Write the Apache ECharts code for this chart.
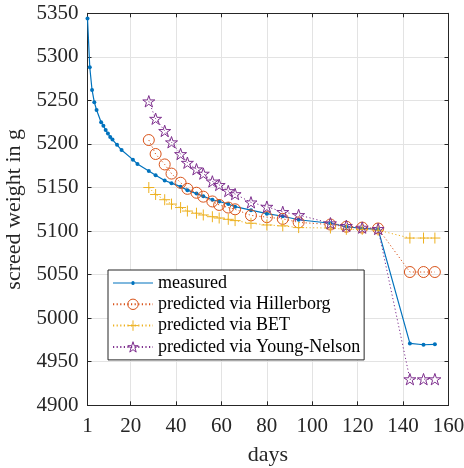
<!DOCTYPE html>
<html>
<head>
<meta charset="utf-8">
<script src="https://cdn.jsdelivr.net/npm/echarts@6/dist/echarts.min.js"></script>
<style>html,body{margin:0;padding:0;background:#fff}#c{width:464px;height:468px}</style>
</head>
<body>
<div id="c"></div>
<script>
const measuredDays = [1,2,3,4,5,7,8,9,10,11,12,14,16,21,23,28,31,35,38,42,45,49,52,56,59,63,66,73,80,87,94,108,115,122,129,143,149,154];
const measured = [5344,5288,5262,5248,5239,5225,5221,5216,5212,5208,5205,5199,5193,5182,5177,5169,5164,5158,5155,5151,5147,5143,5140,5136,5134,5131,5128,5124,5120,5117,5113,5109,5105,5103,5102,4971,4969.5,4970];
const predDays = [28,31,35,38,42,45,49,52,56,59,63,66,73,80,87,94,108,115,122,129,143,149,154];
const hillerborg = [5204.5,5188.5,5176.5,5166,5155.5,5148.5,5144,5139.5,5134,5130,5127,5125,5118,5116,5114,5110,5107.5,5105,5104,5103,5053,5053,5053];
const bet = [5150,5142,5136,5131,5127,5123,5120.5,5118.5,5116.5,5115,5113.5,5112,5109,5107,5106,5104,5103.5,5102,5102,5101,5092,5092,5092];
const youngNelson = [5249,5229,5215,5202,5188.5,5178.5,5171,5166,5157,5153,5146,5142.5,5133,5128,5122,5118.5,5109,5106,5104,5102.5,4930,4930,4930];
const xTicks = [1,20,40,60,80,100,120,140,160];
const seriesNames = ['measured','predicted via Hillerborg','predicted via BET','predicted via Young-Nelson'];

const FONT = 'Liberation Serif';
const AX = '#262626';
const GRID = '#e3e3e3';
const C = ['#0072BD', '#D95319', '#EDB120', '#7E2F8E'];
const STAR = 'path://M100,0 L122.45,69.1 L195.1,69.1 L136.3,111.8 L158.8,180.9 L100,138.2 L41.2,180.9 L63.7,111.8 L4.9,69.1 L77.55,69.1 Z';
const PLUS = 'path://M50,0 L50,100 M0,50 L100,50';
const MEAS_ICON = 'path://M0,1.6 L18.4,1.6 A1.6,1.6 0 0 1 21.6,1.6 L40,1.6 L40,2.4 L21.6,2.4 A1.6,1.6 0 0 1 18.4,2.4 L0,2.4 Z';
const CLEAR = 'rgba(255,255,255,0)';
const zip = (xs, ys) => xs.map((x, i) => [x, ys[i]]);
const plain = v => String(v);

const chart = echarts.init(document.getElementById('c'), null, {renderer: 'canvas'});
const xBase = {
  type: 'value', min: 1, max: 160,
  axisLine: {show: true, onZero: false, lineStyle: {color: AX, width: 1}},
  axisTick: {show: true, inside: true, length: 4, customValues: xTicks, lineStyle: {color: AX}},
  splitLine: {show: false}
};
const yBase = {
  type: 'value', min: 4900, max: 5350, interval: 50,
  axisLine: {show: true, onZero: false, lineStyle: {color: AX, width: 1}},
  axisTick: {show: true, inside: true, length: 4, lineStyle: {color: AX}},
  splitLine: {show: false}
};
const dotted = [1.2, 2.4];
chart.setOption({
  animation: false,
  backgroundColor: '#fff',
  textStyle: {fontFamily: FONT},
  grid: {left: 87.5, top: 13.3, width: 361, height: 392, containLabel: false, outerBoundsMode: 'none'},
  xAxis: [
    Object.assign({}, xBase, {
      position: 'bottom',
      name: 'days', nameLocation: 'middle', nameGap: 39,
      nameTextStyle: {fontFamily: FONT, fontSize: 22, color: AX},
      axisLabel: {customValues: xTicks, formatter: plain, fontFamily: FONT, fontSize: 21, color: AX, margin: 11},
      splitLine: {show: true, lineStyle: {color: GRID, width: 1}}
    }),
    Object.assign({}, xBase, {position: 'top', axisLabel: {show: false, customValues: xTicks}})
  ],
  yAxis: [
    Object.assign({}, yBase, {
      position: 'left',
      name: 'screed weight in g', nameLocation: 'middle', nameGap: 53, nameRotate: 90,
      nameTextStyle: {fontFamily: FONT, fontSize: 22, color: AX},
      axisLabel: {formatter: plain, fontFamily: FONT, fontSize: 21, color: AX, margin: 9},
      splitLine: {show: true, lineStyle: {color: GRID, width: 1}}
    }),
    Object.assign({}, yBase, {position: 'right', axisLabel: {show: false}})
  ],
  legend: {
    orient: 'vertical', left: 108, top: 270,
    backgroundColor: '#fff', borderColor: AX, borderWidth: 1, borderRadius: 0,
    padding: [3, 4, 3, 4], itemGap: 1.3, itemWidth: 40, itemHeight: 13,
    textStyle: {fontFamily: FONT, fontSize: 18, color: '#000', lineHeight: 20},
    data: [
      {name: seriesNames[0], icon: MEAS_ICON, itemStyle: {color: C[0], borderWidth: 0}},
      {name: seriesNames[1], itemStyle: {color: CLEAR, borderColor: C[1], borderWidth: 1}},
      {name: seriesNames[2], itemStyle: {color: CLEAR, borderColor: C[2], borderWidth: 1}},
      {name: seriesNames[3], itemStyle: {color: CLEAR, borderColor: C[3], borderWidth: 1}}
    ]
  },
  series: [
    {
      name: seriesNames[0], type: 'line', data: zip(measuredDays, measured),
      symbol: 'circle', symbolSize: 4, showAllSymbol: true,
      itemStyle: {color: C[0]}, lineStyle: {color: C[0], width: 1.2}, z: 2
    },
    {
      name: seriesNames[1], type: 'line', data: zip(predDays, hillerborg),
      symbol: 'circle', symbolSize: 11, showAllSymbol: true,
      itemStyle: {color: CLEAR, borderColor: C[1], borderWidth: 1},
      lineStyle: {color: C[1], width: 1, type: dotted}, z: 3
    },
    {
      name: seriesNames[2], type: 'line', data: zip(predDays, bet),
      symbol: PLUS, symbolSize: 11, showAllSymbol: true,
      itemStyle: {color: CLEAR, borderColor: C[2], borderWidth: 1},
      lineStyle: {color: C[2], width: 1, type: dotted}, z: 3
    },
    {
      name: seriesNames[3], type: 'line', data: zip(predDays, youngNelson),
      symbol: STAR, symbolSize: 12, symbolKeepAspect: true, showAllSymbol: true,
      itemStyle: {color: CLEAR, borderColor: C[3], borderWidth: 1},
      lineStyle: {color: C[3], width: 1, type: dotted}, z: 3
    }
  ]
});
</script>
</body>
</html>
